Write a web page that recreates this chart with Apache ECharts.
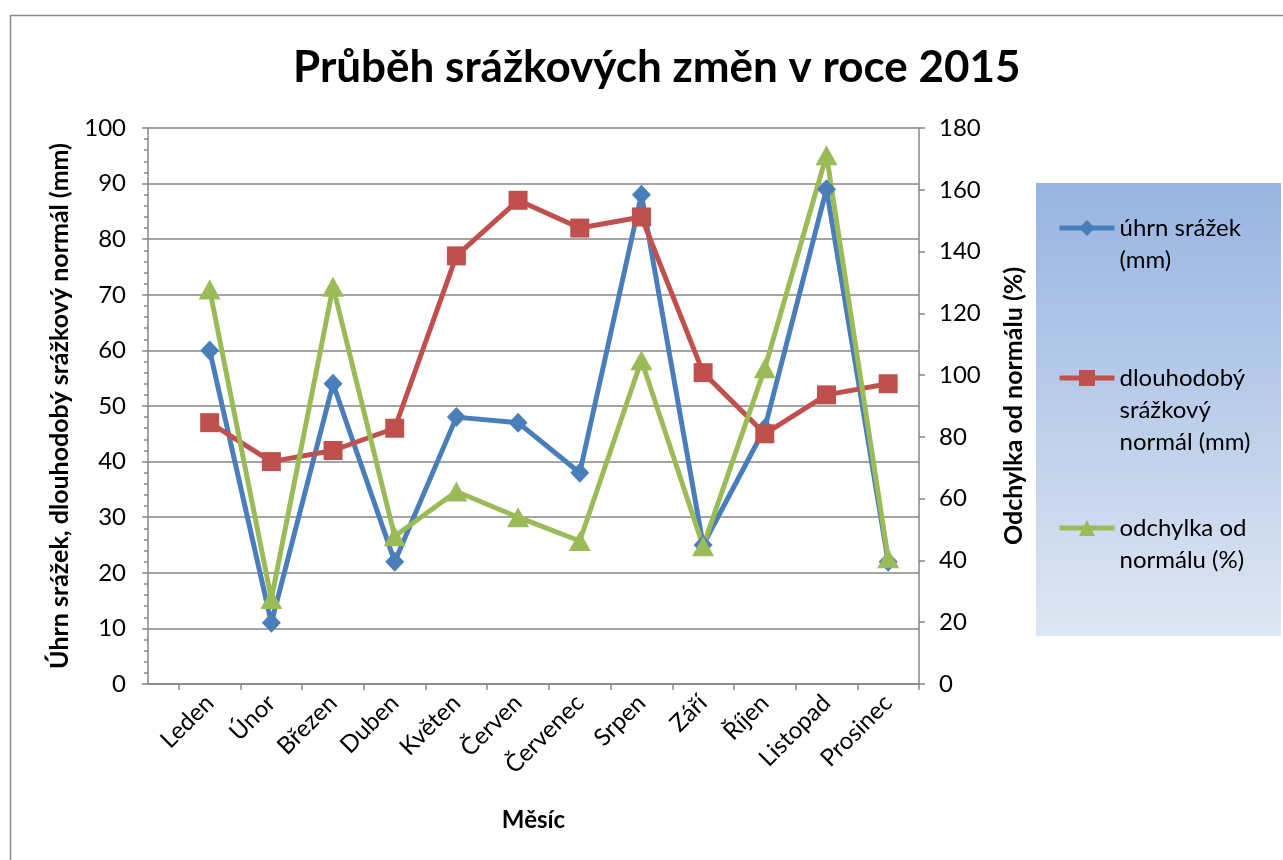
<!DOCTYPE html>
<html><head><meta charset="utf-8">
<script src="https://cdn.jsdelivr.net/npm/echarts@6/dist/echarts.min.js"></script>
<style>html,body{margin:0;padding:0;background:#fff}#c{width:1283px;height:860px}</style>
</head><body><div id="c"></div>
<script>
const categories = ['Leden','Únor','Březen','Duben','Květen','Červen','Červenec','Srpen','Září','Říjen','Listopad','Prosinec'];
const uhrn = [60, 11, 54, 22, 48, 47, 38, 88, 25, 46, 89, 22];
const normal = [47, 40, 42, 46, 77, 87, 82, 84, 56, 45, 52, 54];
const odchylka = [127.7, 27.5, 128.6, 47.8, 62.3, 54.0, 46.3, 104.8, 44.6, 102.2, 171.2, 40.7];
const seriesNames = ['úhrn srážek (mm)', 'dlouhodobý srážkový normál (mm)', 'odchylka od normálu (%)'];
const legendTexts = ['\núhrn srážek\n(mm)', '\n\ndlouhodobý\nsrážkový\nnormál (mm)', '\nodchylka od\nnormálu (%)'];
const titleText = 'Průběh srážkových změn v roce 2015';
const leftAxisName = 'Úhrn srážek, dlouhodobý srážkový normál (mm)';
const rightAxisName = 'Odchylka od normálu (%)';
const xAxisName = 'Měsíc';

const FONT = 'Lato';
const GRAY = '#868686';
const colors = ['#4a7ebb', '#c0504d', '#9bbb59'];
const pairs = arr => arr.map((v, i) => [i, v]);
const tickPos = [-0.5].concat(categories.map((c, i) => i + 0.5));
const labelPos = categories.map((c, i) => i);

const chart = echarts.init(document.getElementById('c'), null, {renderer: 'canvas'});
const legendBase = (i, top) => ({
  data: [seriesNames[i]], left: 1057, top: top, orient: 'vertical', padding: 0,
  itemWidth: 55, itemHeight: 20,
  lineStyle: {width: 5},
  formatter: () => legendTexts[i],
  textStyle: {fontFamily: FONT, fontSize: 24, color: '#000', lineHeight: 32},
  selectedMode: false
});
chart.setOption({
  animation: false,
  backgroundColor: '#fff',
  textStyle: {fontFamily: FONT},
  title: {text: titleText, left: 288, top: 41, textStyle: {fontFamily: FONT, fontWeight: 'bold', fontSize: 44, color: '#000'}},
  graphic: [
    {type: 'rect', z: -10, shape: {x: 10.5, y: 15.5, width: 1400, height: 1000}, style: {fill: 'none', stroke: '#898989', lineWidth: 1.5}},
    {type: 'rect', z: -5, shape: {x: 1036, y: 183, width: 245, height: 453},
     style: {fill: new echarts.graphic.LinearGradient(0, 0, 0, 1, [{offset: 0, color: '#97b4e1'}, {offset: 1, color: '#dfe6f3'}])}}
  ],
  legend: [legendBase(0, 180), legendBase(1, 298), legendBase(2, 480)],
  grid: {left: 148, right: 364, top: 128, bottom: 176},
  xAxis: {
    type: 'value', min: -1, max: 11.5,
    name: xAxisName, nameLocation: 'middle', nameGap: 124,
    nameTextStyle: {fontFamily: FONT, fontWeight: 'bold', fontSize: 24, color: '#000'},
    axisLine: {show: true, onZero: false, lineStyle: {color: GRAY, width: 1.5}},
    axisTick: {show: true, length: 6, customValues: tickPos, lineStyle: {color: GRAY, width: 1.5}},
    axisLabel: {customValues: labelPos, rotate: 45, margin: 15, fontFamily: FONT, fontSize: 24, color: '#000',
      formatter: v => categories[Math.round(v)] || ''},
    splitLine: {show: false}
  },
  yAxis: [
    {type: 'value', min: 0, max: 100, interval: 10, position: 'left',
     name: leftAxisName, nameLocation: 'middle', nameGap: 76,
     nameTextStyle: {fontFamily: FONT, fontWeight: 'bold', fontSize: 25, color: '#000'},
     axisLine: {show: true, onZero: false, lineStyle: {color: GRAY, width: 1.5}},
     axisTick: {show: true, length: 6, lineStyle: {color: GRAY, width: 1.5}},
     minorTick: {show: true, splitNumber: 5, length: 4, lineStyle: {color: GRAY, width: 1.5}},
     axisLabel: {margin: 22, fontFamily: FONT, fontSize: 24, color: '#000'},
     splitLine: {show: true, lineStyle: {color: GRAY, width: 1.5}}},
    {type: 'value', min: 0, max: 180, interval: 20, position: 'right',
     name: rightAxisName, nameLocation: 'middle', nameGap: 82,
     nameTextStyle: {fontFamily: FONT, fontWeight: 'bold', fontSize: 25, color: '#000'},
     axisLine: {show: true, onZero: false, lineStyle: {color: GRAY, width: 1.5}},
     axisTick: {show: true, length: 6, lineStyle: {color: GRAY, width: 1.5}},
     axisLabel: {margin: 20, fontFamily: FONT, fontSize: 24, color: '#000'},
     splitLine: {show: false}}
  ],
  series: [
    {name: seriesNames[0], type: 'line', yAxisIndex: 0, data: pairs(uhrn), color: colors[0],
     symbol: 'diamond', symbolSize: [19, 20], lineStyle: {width: 5}, itemStyle: {color: colors[0]}},
    {name: seriesNames[1], type: 'line', yAxisIndex: 0, data: pairs(normal), color: colors[1],
     symbol: 'rect', symbolSize: 19, lineStyle: {width: 5}, itemStyle: {color: colors[1]}},
    {name: seriesNames[2], type: 'line', yAxisIndex: 1, data: pairs(odchylka), color: colors[2],
     symbol: 'triangle', symbolSize: [22, 20], lineStyle: {width: 5}, itemStyle: {color: colors[2]}}
  ]
});
</script></body></html>
